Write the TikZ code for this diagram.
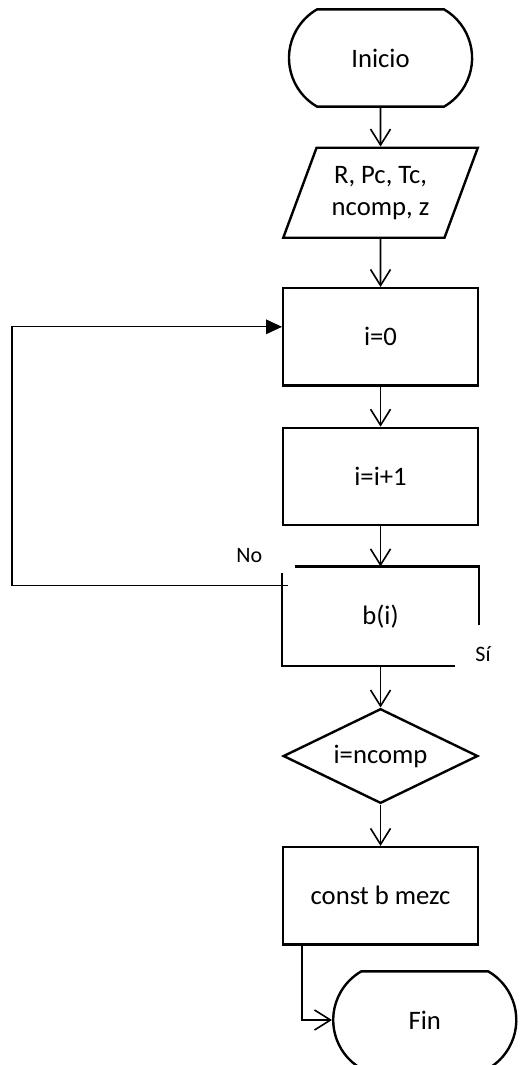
\documentclass[tikz,border=0pt]{standalone}
\usepackage{fontspec}
\setmainfont{Carlito}
\usetikzlibrary{shapes.geometric, shapes.misc, arrows.meta, positioning, calc}

\begin{document}
\begin{tikzpicture}[node distance=30pt,
  box/.style={draw, line width=1.8pt, minimum width=146pt, minimum height=73pt,
    align=center, font=\fontsize{20}{24}\selectfont},
  term/.style={box, rounded rectangle, rounded rectangle arc length=120, minimum width=144pt},
  io/.style={box, trapezium, trapezium left angle=66, trapezium right angle=114,
    trapezium stretches=true, minimum width=146pt, minimum height=67.5pt},
  decision/.style={box, diamond, aspect=2, inner sep=0pt, minimum width=146pt, minimum height=71pt},
  arrow/.style={-{Straight Barb[length=12pt,width=15pt]}, line width=1.2pt},
  loopline/.style={-{Triangle[length=12pt,width=11pt]}, line width=0.8pt},
  lbl/.style={font=\fontsize{16.5}{19}\selectfont}]
  \useasboundingbox (0,0) rectangle (390.75pt,-798.75pt);

  \node[term] (inicio) at (285.4pt,-43.5pt) {Inicio};
  \node[io, below=29pt of inicio] (datos) {R, Pc, Tc,\\ncomp, z};
  \node[box, below=36pt of datos] (cero) {i=0};
  \node[box, below=of cero] (incr) {i=i+1};
  \node[box, draw=none, below=of incr] (bi) {b(i)};
  \node[decision, below=31pt of bi] (comp) {i=ncomp};
  \node[box, below=31pt of comp] (mezc) {const b mezc};
  \node[term, anchor=west] (fin) at (249pt,-765pt) {Fin};

  % b(i) box with open corners
  \draw[line width=1.8pt] ($(bi.north west)+(9.75pt,0)$) -- (bi.north east) -- ++(0,-44pt);
  \draw[line width=1.8pt] ($(bi.north west)+(0,-5.25pt)$) -- (bi.south west) -- ++(130pt,0);
  \node[lbl] (no) at ($(bi.north west)+(-24.5pt,8.4pt)$) {No};
  \node[lbl] (si) at ($(bi.south east)+(3pt,9.4pt)$) {Sí};

  \coordinate (noexit) at ($(bi.north west)+(4.5pt,-14pt)$);
  \coordinate (noin) at ($(cero.west)+(0,7.5pt)$);
  \coordinate (looped) at (9pt,0);
  \coordinate (mezcout) at ($(mezc.south west)+(15pt,0)$);

  \draw[arrow] (inicio) -- (datos);
  \draw[arrow] (datos) -- (cero);
  \draw[arrow] (cero) -- (incr);
  \draw[arrow] (incr) -- (bi);
  \draw[arrow] (bi) -- (comp);
  \draw[arrow] (comp) -- (mezc);
  \draw[arrow] (mezcout) |- (fin.west);
  \draw[loopline] (noexit) -- (noexit -| looped) -- (noin -| looped) -- (noin);
\end{tikzpicture}
\end{document}
